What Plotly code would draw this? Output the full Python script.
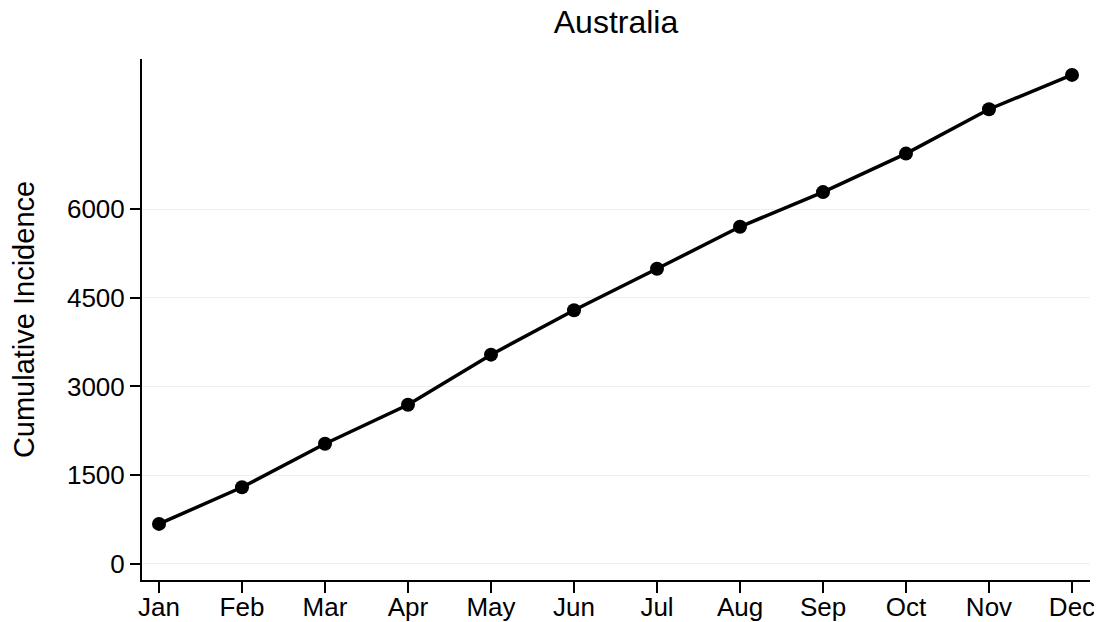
import plotly.graph_objects as go

months = ["Jan", "Feb", "Mar", "Apr", "May", "Jun", "Jul", "Aug", "Sep", "Oct", "Nov", "Dec"]
cumulative_incidence = [673, 1293, 2029, 2690, 3537, 4288, 4990, 5701, 6288, 6939, 7690, 8271]
y_ticks = [0, 1500, 3000, 4500, 6000]

fig = go.Figure()
fig.add_trace(go.Scatter(
    x=list(range(len(months))), y=cumulative_incidence,
    mode="lines+markers",
    line=dict(color="black", width=3.5),
    marker=dict(color="black", size=14),
    showlegend=False,
))

# The page body adds an 8px offset, so the figure is 8px smaller than the window.
font_family = "Liberation Sans, Arial, sans-serif"
fig.update_layout(
    width=1094, height=614,
    margin=dict(l=134, r=12, t=51, b=42, autoexpand=False),
    paper_bgcolor="white", plot_bgcolor="white",
    font=dict(family=font_family, color="black", size=26),
    title=dict(text="Australia", xref="paper", x=0.5, xanchor="center",
               yref="container", y=0.995, yanchor="top",
               font=dict(size=32, color="black")),
    xaxis=dict(
        tickmode="array", tickvals=list(range(len(months))), ticktext=months,
        range=[-0.205, 11.217], showgrid=False, zeroline=False,
        showline=True, linecolor="black", linewidth=2,
        ticks="outside", ticklen=11, tickwidth=1.5, tickcolor="black",
        tickfont=dict(size=26), automargin=False, ticklabelstandoff=-8,
    ),
    yaxis=dict(
        title=dict(text="Cumulative Incidence", font=dict(size=29), standoff=27),
        tickmode="array", tickvals=y_ticks, ticktext=[str(v) for v in y_ticks],
        range=[-276, 8540], showgrid=True, gridcolor="#eaf0f0", gridwidth=1,
        zeroline=False, showline=True, linecolor="black", linewidth=2,
        ticks="outside", ticklen=10, tickwidth=1.5, tickcolor="black",
        tickfont=dict(size=26), automargin=True,
    ),
)

fig.write_html("out.html")
